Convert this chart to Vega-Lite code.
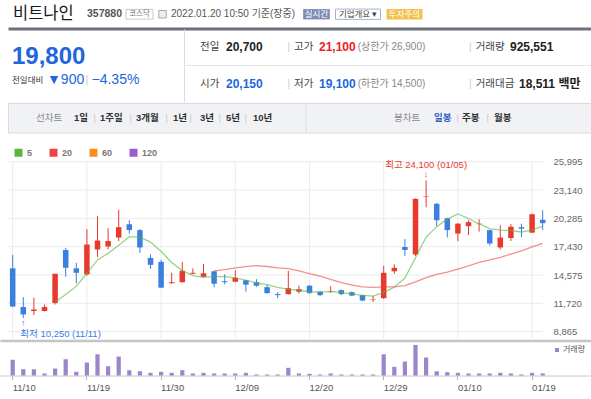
{
"$schema": "https://vega.github.io/schema/vega-lite/v6.json",
"padding": 0,
"background": "#ffffff",
"spacing": 0,
"bounds": "full",
"config": {
  "view": {"stroke": null},
  "font": "Liberation Sans, Noto Sans CJK KR",
  "text": {"font": "Liberation Sans, Noto Sans CJK KR", "baseline": "middle"},
  "axis": {"labelFont": "Liberation Sans, Noto Sans CJK KR"},
  "axisY": {"labelOverlap": false},
  "legend": {"labelFont": "Liberation Sans, Noto Sans CJK KR"}
},
"datasets": {
  "prices": [
    {"date":"2021-11-10","open":15250,"high":16600,"low":11350,"close":11400,"volume":7076000},
    {"date":"2021-11-11","open":11350,"high":12350,"low":10250,"close":10600,"volume":2840000},
    {"date":"2021-11-12","open":10950,"high":12300,"low":10550,"close":11100,"volume":2840000},
    {"date":"2021-11-15","open":10950,"high":11600,"low":10900,"close":11350,"volume":900000},
    {"date":"2021-11-16","open":11750,"high":14700,"low":11600,"close":14700,"volume":3155000},
    {"date":"2021-11-17","open":17100,"high":17300,"low":14400,"close":15300,"volume":7346000},
    {"date":"2021-11-18","open":15250,"high":15800,"low":13750,"close":14800,"volume":1668000},
    {"date":"2021-11-19","open":14650,"high":19200,"low":14500,"close":17650,"volume":5859000},
    {"date":"2021-11-22","open":17150,"high":20500,"low":16400,"close":18050,"volume":9600000},
    {"date":"2021-11-23","open":17450,"high":19300,"low":17150,"close":18000,"volume":4192000},
    {"date":"2021-11-24","open":18350,"high":21150,"low":18000,"close":19400,"volume":8563000},
    {"date":"2021-11-25","open":19700,"high":20100,"low":18750,"close":19100,"volume":2389000},
    {"date":"2021-11-26","open":19100,"high":19200,"low":16800,"close":17350,"volume":1938000},
    {"date":"2021-11-29","open":16300,"high":16650,"low":15200,"close":15600,"volume":1217000},
    {"date":"2021-11-30","open":15900,"high":16100,"low":13250,"close":13300,"volume":1668000},
    {"date":"2021-12-01","open":13750,"high":14800,"low":13700,"close":13850,"volume":1217000},
    {"date":"2021-12-02","open":13850,"high":15900,"low":13800,"close":15000,"volume":2389000},
    {"date":"2021-12-03","open":14700,"high":15250,"low":14650,"close":14800,"volume":901000},
    {"date":"2021-12-06","open":14400,"high":15700,"low":14350,"close":14750,"volume":1217000},
    {"date":"2021-12-07","open":14950,"high":15000,"low":13350,"close":13700,"volume":901000},
    {"date":"2021-12-08","open":13950,"high":14650,"low":13650,"close":13850,"volume":901000},
    {"date":"2021-12-09","open":13900,"high":15050,"low":13850,"close":14300,"volume":901000},
    {"date":"2021-12-10","open":14050,"high":14100,"low":12900,"close":13600,"volume":1217000},
    {"date":"2021-12-13","open":13850,"high":14150,"low":13400,"close":13500,"volume":451000},
    {"date":"2021-12-14","open":13350,"high":13600,"low":12700,"close":12750,"volume":451000},
    {"date":"2021-12-15","open":12650,"high":12850,"low":12250,"close":12550,"volume":451000},
    {"date":"2021-12-16","open":12650,"high":15000,"low":12600,"close":13250,"volume":3470000},
    {"date":"2021-12-17","open":12900,"high":13500,"low":12700,"close":13150,"volume":901000},
    {"date":"2021-12-20","open":13500,"high":13550,"low":12700,"close":12750,"volume":766000},
    {"date":"2021-12-21","open":12900,"high":12950,"low":12450,"close":12550,"volume":451000},
    {"date":"2021-12-22","open":12850,"high":13450,"low":12800,"close":12900,"volume":901000},
    {"date":"2021-12-23","open":13050,"high":13100,"low":12550,"close":12650,"volume":451000},
    {"date":"2021-12-24","open":12850,"high":12900,"low":12450,"close":12500,"volume":451000},
    {"date":"2021-12-27","open":12550,"high":12600,"low":11950,"close":12000,"volume":451000},
    {"date":"2021-12-28","open":12100,"high":12450,"low":11850,"close":12150,"volume":451000},
    {"date":"2021-12-29","open":12250,"high":15500,"low":12150,"close":14800,"volume":9600000},
    {"date":"2021-12-30","open":14950,"high":15650,"low":14700,"close":15300,"volume":3921000},
    {"date":"2022-01-03","open":17400,"high":18200,"low":16500,"close":17100,"volume":6310000},
    {"date":"2022-01-04","open":16650,"high":22300,"low":16500,"close":22250,"volume":13837000},
    {"date":"2022-01-05","open":22450,"high":24100,"low":21400,"close":22500,"volume":8113000},
    {"date":"2022-01-06","open":21750,"high":21850,"low":19500,"close":20100,"volume":1938000},
    {"date":"2022-01-07","open":20300,"high":20350,"low":18350,"close":19100,"volume":1487000},
    {"date":"2022-01-10","open":18750,"high":19800,"low":18000,"close":19750,"volume":1217000},
    {"date":"2022-01-11","open":19500,"high":20100,"low":18600,"close":19900,"volume":901000},
    {"date":"2022-01-12","open":19700,"high":20200,"low":18950,"close":19750,"volume":901000},
    {"date":"2022-01-13","open":19100,"high":19150,"low":17550,"close":17750,"volume":901000},
    {"date":"2022-01-14","open":17350,"high":19600,"low":17150,"close":18350,"volume":1217000},
    {"date":"2022-01-17","open":18300,"high":19700,"low":18000,"close":19450,"volume":901000},
    {"date":"2022-01-18","open":19400,"high":19750,"low":18400,"close":19250,"volume":451000},
    {"date":"2022-01-19","open":18850,"high":20750,"low":18800,"close":20700,"volume":1217000},
    {"date":"2022-01-20","open":20150,"high":21100,"low":19100,"close":19800,"volume":925551}
  ]
},
"resolve": {"scale": {"x": "independent", "y": "independent", "color": "independent"}, "legend": {"color": "independent"}, "axis": {"x": "independent", "y": "independent"}},
"vconcat": [
  {
    "width": 591, "height": 28.5,
    "data": {"values": [
      {"slot": 0, "kind": "name", "text": "비트나인"},
      {"slot": 1, "kind": "code", "text": "357880"},
      {"slot": 2, "kind": "market", "text": "코스닥"},
      {"slot": 3, "kind": "icon", "text": ""},
      {"slot": 4, "kind": "time", "text": "2022.01.20 10:50 기준(장중)"},
      {"slot": 5, "kind": "live", "text": "실시간"},
      {"slot": 6, "kind": "company", "text": "기업개요 ▾"},
      {"slot": 7, "kind": "warn", "text": "투자주의"}
    ]},
    "encoding": {
      "x": {"field": "slot", "type": "quantitative",
            "scale": {"domain": [-1, 0, 1, 2, 3, 4, 5, 6, 7, 8], "range": [8, 13, 87, 139.5, 162.5, 171, 316.5, 358, 404.5, 591], "zero": false, "nice": false},
            "axis": {"orient": "bottom", "domain": true, "domainColor": "#6b707b", "domainWidth": 3, "labels": false, "ticks": false, "grid": false, "title": null}}
    },
    "layer": [
      {"transform": [{"filter": "datum.kind == 'name'"}], "mark": {"type": "text", "align": "left", "fontSize": 16.5, "dy": 0, "color": "#1a1a1a", "font": "Noto Sans CJK KR"}, "encoding": {"text": {"field": "text"}}},
      {"transform": [{"filter": "datum.kind == 'code'"}], "mark": {"type": "text", "align": "left", "fontSize": 10.5, "fontWeight": "bold", "color": "#555555"}, "encoding": {"text": {"field": "text"}}},
      {"transform": [{"filter": "datum.kind == 'market'"}], "mark": {"type": "point", "shape": "M-1,-0.36H1V0.36H-1Z", "size": 729, "filled": true, "fill": "#ffffff", "stroke": "#c9c9c9", "strokeWidth": 1, "opacity": 1}},
      {"transform": [{"filter": "datum.kind == 'market'"}], "mark": {"type": "text", "align": "center", "fontSize": 7.5, "color": "#777777", "font": "Noto Sans CJK KR"}, "encoding": {"text": {"field": "text"}}},
      {"transform": [{"filter": "datum.kind == 'icon'"}], "mark": {"type": "point", "shape": "square", "size": 56, "filled": true, "fill": "#eeeeee", "stroke": "#aaaaaa", "strokeWidth": 1, "opacity": 1}},
      {"transform": [{"filter": "datum.kind == 'time'"}], "mark": {"type": "text", "align": "left", "fontSize": 10, "color": "#555555"}, "encoding": {"text": {"field": "text"}}},
      {"transform": [{"filter": "datum.kind == 'live'"}], "mark": {"type": "point", "shape": "M-1,-0.386H1V0.386H-1Z", "size": 713, "filled": true, "fill": "#7e8bb6", "strokeWidth": 0, "opacity": 1}},
      {"transform": [{"filter": "datum.kind == 'live'"}], "mark": {"type": "text", "align": "center", "fontSize": 8.5, "color": "#ffffff", "font": "Noto Sans CJK KR"}, "encoding": {"text": {"field": "text"}}},
      {"transform": [{"filter": "datum.kind == 'company'"}], "mark": {"type": "point", "shape": "M-1,-0.229H1V0.229H-1Z", "size": 2025, "filled": true, "fill": "#ffffff", "stroke": "#a9b3d2", "strokeWidth": 1, "opacity": 1}},
      {"transform": [{"filter": "datum.kind == 'company'"}], "mark": {"type": "text", "align": "center", "fontSize": 8.5, "color": "#444444", "font": "Noto Sans CJK KR"}, "encoding": {"text": {"field": "text"}}},
      {"transform": [{"filter": "datum.kind == 'warn'"}], "mark": {"type": "point", "shape": "M-1,-0.286H1V0.286H-1Z", "size": 1296, "filled": true, "fill": "#f2c14e", "strokeWidth": 0, "opacity": 1}},
      {"transform": [{"filter": "datum.kind == 'warn'"}], "mark": {"type": "text", "align": "center", "fontSize": 8.5, "color": "#ffffff", "font": "Noto Sans CJK KR"}, "encoding": {"text": {"field": "text"}}}
    ]
  },
  {
    "spacing": 0, "bounds": "flush",
    "resolve": {"scale": {"x": "independent", "y": "independent"}},
    "hconcat": [
      {
        "width": 184, "height": 73,
        "data": {"values": [
          {"slot": 0, "row": "price", "kind": "price", "text": "19,800"},
          {"slot": 0, "row": "change", "kind": "label", "text": "전일대비"},
          {"slot": 1, "row": "change", "kind": "chg", "text": "▼900"},
          {"slot": 2, "row": "change", "kind": "sep", "text": "|"},
          {"slot": 3, "row": "change", "kind": "chg", "text": "−4.35%"}
        ]},
        "encoding": {
          "x": {"field": "slot", "type": "quantitative", "scale": {"domain": [0, 1, 2, 3], "range": [12, 47, 85.5, 91.5], "zero": false, "nice": false}, "axis": null},
          "y": {"field": "row", "type": "nominal", "scale": {"type": "band", "domain": ["price", "change"], "paddingInner": 0, "paddingOuter": 0.587, "align": 0.611}, "axis": null},
          "text": {"field": "text"}
        },
        "layer": [
          {"transform": [{"filter": "datum.kind == 'price'"}], "mark": {"type": "text", "align": "left", "fontSize": 24, "fontWeight": "bold", "color": "#2166dc"}},
          {"transform": [{"filter": "datum.kind == 'label'"}], "mark": {"type": "text", "align": "left", "fontSize": 8.5, "color": "#333333", "font": "Noto Sans CJK KR"}},
          {"transform": [{"filter": "datum.kind == 'chg'"}], "mark": {"type": "text", "align": "left", "fontSize": 14, "color": "#2166dc"}},
          {"transform": [{"filter": "datum.kind == 'sep'"}], "mark": {"type": "text", "align": "left", "fontSize": 11, "color": "#cccccc"}}
        ]
      },
      {
        "width": 407, "height": 73,
        "encoding": {
          "y": {"field": "row", "type": "nominal", "scale": {"type": "band", "domain": ["r1", "r2"], "paddingInner": 0, "paddingOuter": 0},
                "axis": {"orient": "left", "domain": true, "domainColor": "#dcdde1", "domainWidth": 1, "labels": false, "ticks": false, "grid": false, "title": null}}
        },
        "layer": [
          {"data": {"values": [{"row": "r2"}]}, "mark": {"type": "rule", "color": "#e6e6e6"}, "encoding": {"y": {"field": "row", "type": "nominal", "bandPosition": 0}}},
          {
            "data": {"values": [
              {"slot": 0, "row": "r1", "kind": "label", "text": "전일"},
              {"slot": 1, "row": "r1", "kind": "val", "text": "20,700"},
              {"slot": 2, "row": "r1", "kind": "sep", "text": "|"},
              {"slot": 3, "row": "r1", "kind": "label", "text": "고가"},
              {"slot": 4, "row": "r1", "kind": "up", "text": "21,100"},
              {"slot": 5, "row": "r1", "kind": "limit", "text": "(상한가 26,900)"},
              {"slot": 6, "row": "r1", "kind": "sep", "text": "|"},
              {"slot": 7, "row": "r1", "kind": "label", "text": "거래량"},
              {"slot": 8, "row": "r1", "kind": "val", "text": "925,551"},
              {"slot": 0, "row": "r2", "kind": "label", "text": "시가"},
              {"slot": 1, "row": "r2", "kind": "down", "text": "20,150"},
              {"slot": 2, "row": "r2", "kind": "sep", "text": "|"},
              {"slot": 3, "row": "r2", "kind": "label", "text": "저가"},
              {"slot": 4, "row": "r2", "kind": "down", "text": "19,100"},
              {"slot": 5, "row": "r2", "kind": "limit", "text": "(하한가 14,500)"},
              {"slot": 6, "row": "r2", "kind": "sep", "text": "|"},
              {"slot": 7, "row": "r2", "kind": "label", "text": "거래대금"},
              {"slot": 9, "row": "r2", "kind": "val", "text": "18,511 백만"}
            ]},
            "encoding": {
              "x": {"field": "slot", "type": "quantitative", "scale": {"domain": [0, 1, 2, 3, 4, 5, 6, 7, 8, 9], "range": [16, 42, 103.5, 110, 135, 173.7, 285, 291.7, 326, 335], "zero": false, "nice": false}, "axis": null},
              "y": {"field": "row", "type": "nominal"},
              "text": {"field": "text"}
            },
            "layer": [
              {"transform": [{"filter": "datum.kind == 'label'"}], "mark": {"type": "text", "align": "left", "fontSize": 10.5, "color": "#444444", "font": "Noto Sans CJK KR"}},
              {"transform": [{"filter": "datum.kind == 'val'"}], "mark": {"type": "text", "align": "left", "fontSize": 12, "fontWeight": "bold", "color": "#222222"}},
              {"transform": [{"filter": "datum.kind == 'up'"}], "mark": {"type": "text", "align": "left", "fontSize": 12, "fontWeight": "bold", "color": "#f0201c"}},
              {"transform": [{"filter": "datum.kind == 'down'"}], "mark": {"type": "text", "align": "left", "fontSize": 12, "fontWeight": "bold", "color": "#2166dc"}},
              {"transform": [{"filter": "datum.kind == 'limit'"}], "mark": {"type": "text", "align": "left", "fontSize": 10, "color": "#888888"}},
              {"transform": [{"filter": "datum.kind == 'sep'"}], "mark": {"type": "text", "align": "left", "fontSize": 10, "color": "#cccccc"}}
            ]
          }
        ]
      }
    ]
  },
  {
    "spacing": 0, "bounds": "flush",
    "hconcat": [
      {"width": 8, "height": 29.5, "view": {"fill": "#ffffff"}, "data": {"values": [{}]}, "mark": {"type": "text", "text": ""}, "encoding": {}},
      {
        "width": 583, "height": 29.5,
        "view": {"fill": "#f1f2f6", "stroke": "#d8dadf"},
        "data": {"values": [
          {"slot": 0, "kind": "head", "text": "선차트"},
          {"slot": 1, "kind": "item", "text": "1일"},
          {"slot": 2, "kind": "sep", "text": "|"},
          {"slot": 3, "kind": "item", "text": "1주일"},
          {"slot": 4, "kind": "sep", "text": "|"},
          {"slot": 5, "kind": "item", "text": "3개월"},
          {"slot": 6, "kind": "sep", "text": "|"},
          {"slot": 7, "kind": "item", "text": "1년"},
          {"slot": 8, "kind": "sep", "text": "|"},
          {"slot": 9, "kind": "item", "text": "3년"},
          {"slot": 10, "kind": "sep", "text": "|"},
          {"slot": 11, "kind": "item", "text": "5년"},
          {"slot": 12, "kind": "sep", "text": "|"},
          {"slot": 13, "kind": "item", "text": "10년"},
          {"slot": 14, "kind": "divider", "text": ""},
          {"slot": 15, "kind": "head", "text": "봉차트"},
          {"slot": 16, "kind": "active", "text": "일봉"},
          {"slot": 17, "kind": "sep", "text": "|"},
          {"slot": 18, "kind": "item", "text": "주봉"},
          {"slot": 19, "kind": "sep", "text": "|"},
          {"slot": 20, "kind": "item", "text": "월봉"}
        ]},
        "encoding": {
          "x": {"field": "slot", "type": "quantitative",
                "scale": {"domain": [0,1,2,3,4,5,6,7,8,9,10,11,12,13,14,15,16,17,18,19,20], "range": [28,66,85.5,92,121.5,128,157.5,165,181.5,192,210.5,218,236.5,245,298,386,426,448.5,454,478.5,486], "zero": false, "nice": false},
                "axis": null}
        },
        "layer": [
          {"transform": [{"filter": "datum.kind == 'divider'"}], "mark": {"type": "rule", "color": "#d8dadf"}},
          {"transform": [{"filter": "datum.kind == 'head'"}], "mark": {"type": "text", "align": "left", "fontSize": 9.5, "color": "#888888", "font": "Noto Sans CJK KR"}, "encoding": {"text": {"field": "text"}}},
          {"transform": [{"filter": "datum.kind == 'item'"}], "mark": {"type": "text", "align": "left", "fontSize": 9.5, "fontWeight": "bold", "color": "#333333"}, "encoding": {"text": {"field": "text"}}},
          {"transform": [{"filter": "datum.kind == 'active'"}], "mark": {"type": "text", "align": "left", "fontSize": 9.5, "fontWeight": "bold", "color": "#2f5fc2"}, "encoding": {"text": {"field": "text"}}},
          {"transform": [{"filter": "datum.kind == 'sep'"}], "mark": {"type": "text", "align": "left", "fontSize": 9, "color": "#c8c8c8"}, "encoding": {"text": {"field": "text"}}}
        ]
      }
    ]
  },
  {
    "width": 591, "height": 206.5,
    "layer": [
      {
        "data": {"values": [{"level": 8865}, {"level": 11720}, {"level": 14575}, {"level": 17430}, {"level": 20285}, {"level": 23140}, {"level": 25995}]},
        "mark": {"type": "rule", "color": "#ebebeb", "strokeWidth": 1},
        "encoding": {
          "y": {"field": "level", "type": "quantitative",
                "scale": {"domain": [7977, 28786], "nice": false, "zero": false},
                "axis": {"orient": "right", "offset": -38, "values": [8865, 11720, 14575, 17430, 20285, 23140, 25995], "tickCount": 20, "format": ",d", "domain": false, "ticks": false, "grid": false, "labelPadding": 0, "labelOverlap": false, "labelBound": false, "labelFontSize": 9.5, "labelColor": "#666666", "labelFont": "Liberation Sans", "title": null}},
          "x": {"datum": "2021-11-10", "type": "ordinal", "bandPosition": 0},
          "x2": {"datum": "2022-01-20"}
        }
      },
      {
        "data": {"values": [{"date": "2021-11-10"}, {"date": "2021-11-19"}, {"date": "2021-11-30"}, {"date": "2021-12-09"}, {"date": "2021-12-20"}, {"date": "2021-12-29"}, {"date": "2022-01-10"}, {"date": "2022-01-19"}]},
        "mark": {"type": "rule", "color": "#ebebeb", "strokeWidth": 1},
        "encoding": {
          "x": {"field": "date", "type": "ordinal"},
          "y": {"datum": 25995},
          "y2": {"datum": 7977}
        }
      },
      {
        "data": {"name": "prices"},
        "mark": {"type": "rule", "strokeWidth": 1},
        "encoding": {
          "x": {"field": "date", "type": "ordinal",
                "scale": {"type": "band", "paddingInner": 0, "paddingOuter": 0.3774, "align": 0.925,
                          "domain": ["2021-11-10","2021-11-11","2021-11-12","2021-11-15","2021-11-16","2021-11-17","2021-11-18","2021-11-19","2021-11-22","2021-11-23","2021-11-24","2021-11-25","2021-11-26","2021-11-29","2021-11-30","2021-12-01","2021-12-02","2021-12-03","2021-12-06","2021-12-07","2021-12-08","2021-12-09","2021-12-10","2021-12-13","2021-12-14","2021-12-15","2021-12-16","2021-12-17","2021-12-20","2021-12-21","2021-12-22","2021-12-23","2021-12-24","2021-12-27","2021-12-28","2021-12-29","2021-12-30","2022-01-03","2022-01-04","2022-01-05","2022-01-06","2022-01-07","2022-01-10","2022-01-11","2022-01-12","2022-01-13","2022-01-14","2022-01-17","2022-01-18","2022-01-19","2022-01-20","pad1","pad2","pad3","pad4"]},
                "axis": {"orient": "bottom", "domain": true, "domainColor": "#c4c4c4", "domainWidth": 2.5, "labels": false, "ticks": false, "grid": false, "title": null}},
          "y": {"field": "low", "type": "quantitative"},
          "y2": {"field": "high"},
          "color": {"condition": {"test": "datum.close >= datum.open", "value": "#e8392f"}, "value": "#3b7fe0"}
        }
      },
      {
        "data": {"name": "prices"},
        "mark": {"type": "bar", "width": {"band": 0.52}},
        "encoding": {
          "x": {"field": "date", "type": "ordinal"},
          "y": {"field": "open", "type": "quantitative"},
          "y2": {"field": "close"},
          "color": {"condition": {"test": "datum.close >= datum.open", "value": "#e8392f"}, "value": "#3b7fe0"}
        }
      },
      {
        "data": {"name": "prices"},
        "transform": [
          {"window": [{"op": "mean", "field": "close", "as": "ma5"}, {"op": "count", "field": "close", "as": "n5"}], "frame": [-4, 0], "sort": [{"field": "date"}]},
          {"window": [{"op": "mean", "field": "close", "as": "ma20"}, {"op": "count", "field": "close", "as": "n20"}], "frame": [-19, 0], "sort": [{"field": "date"}]},
          {"fold": ["ma5", "ma20"], "as": ["ma", "value"]},
          {"filter": "(datum.ma == 'ma5' && datum.n5 == 5) || (datum.ma == 'ma20' && datum.n20 == 20)"}
        ],
        "mark": {"type": "line", "strokeWidth": 1.3, "opacity": 0.6},
        "encoding": {
          "x": {"field": "date", "type": "ordinal"},
          "y": {"field": "value", "type": "quantitative"},
          "color": {"field": "ma", "type": "nominal",
                    "scale": {"domain": ["ma5", "ma20", "ma60", "ma120"], "range": ["#55b83c", "#ee4444", "#ff8a1e", "#9b5cd0"]},
                    "legend": {"title": null, "orient": "top-left", "direction": "horizontal", "offset": 14, "padding": 0, "symbolType": "square", "symbolSize": 4, "symbolStrokeWidth": 6, "symbolOpacity": 1, "labelFontSize": 9, "labelFontWeight": "bold", "labelColor": "#777777", "labelOffset": 4, "columnPadding": 7, "labelExpr": "replace(datum.label, 'ma', '')"}}
        }
      },
      {
        "data": {"values": [{"date": "2022-01-05", "price": 24100, "label": "최고 24,100 (01/05)"}]},
        "encoding": {"x": {"field": "date", "type": "ordinal"}, "y": {"field": "price", "type": "quantitative"}},
        "layer": [
          {"mark": {"type": "text", "dy": -16, "fontSize": 9.5, "color": "#e8392f", "align": "center"}, "encoding": {"text": {"field": "label"}}},
          {"mark": {"type": "text", "dy": -1.5, "fontSize": 9, "color": "#e8392f", "baseline": "bottom", "align": "center", "text": "↓"}}
        ]
      },
      {
        "data": {"values": [{"date": "2021-11-11", "price": 10250, "label": "최저 10,250 (11/11)"}]},
        "encoding": {"x": {"field": "date", "type": "ordinal"}, "y": {"field": "price", "type": "quantitative"}},
        "layer": [
          {"mark": {"type": "text", "dy": 16, "dx": -3, "fontSize": 9.5, "color": "#3b7fe0", "align": "left"}, "encoding": {"text": {"field": "label"}}},
          {"mark": {"type": "text", "dy": 1, "fontSize": 9, "color": "#3b7fe0", "baseline": "top", "align": "center", "text": "↑"}}
        ]
      }
    ]
  },
  {
    "width": 591, "height": 34.5,
    "layer": [
      {
        "data": {"name": "prices"},
        "mark": {"type": "bar", "width": {"band": 0.4}},
        "encoding": {
          "x": {"field": "date", "type": "ordinal",
                "scale": {"type": "band", "paddingInner": 0, "paddingOuter": 0.3774, "align": 0.925,
                          "domain": ["2021-11-10","2021-11-11","2021-11-12","2021-11-15","2021-11-16","2021-11-17","2021-11-18","2021-11-19","2021-11-22","2021-11-23","2021-11-24","2021-11-25","2021-11-26","2021-11-29","2021-11-30","2021-12-01","2021-12-02","2021-12-03","2021-12-06","2021-12-07","2021-12-08","2021-12-09","2021-12-10","2021-12-13","2021-12-14","2021-12-15","2021-12-16","2021-12-17","2021-12-20","2021-12-21","2021-12-22","2021-12-23","2021-12-24","2021-12-27","2021-12-28","2021-12-29","2021-12-30","2022-01-03","2022-01-04","2022-01-05","2022-01-06","2022-01-07","2022-01-10","2022-01-11","2022-01-12","2022-01-13","2022-01-14","2022-01-17","2022-01-18","2022-01-19","2022-01-20","pad1","pad2","pad3","pad4"]},
                "axis": {"title": null, "values": ["2021-11-10", "2021-11-19", "2021-11-30", "2021-12-09", "2021-12-20", "2021-12-29", "2022-01-10", "2022-01-19"],
                         "labelExpr": "substring(datum.label, 5, 7) + '/' + substring(datum.label, 8, 10)",
                         "labelAlign": "left", "labelAngle": 0, "labelFontSize": 9.5, "labelColor": "#555555", "labelFont": "Liberation Sans", "labelPadding": 3, "tickSize": 4, "tickColor": "#b5b5b5", "domainColor": "#c8c8c8", "grid": false, "labelOverlap": false}},
          "y": {"field": "volume", "type": "quantitative", "scale": {"domain": [0, 15600000], "nice": false, "zero": true}, "axis": null},
          "color": {"datum": "거래량", "type": "nominal",
                    "scale": {"domain": ["거래량"], "range": ["#9d85c9"]},
                    "legend": {"title": null, "orient": "top-right", "offset": 1, "padding": 4, "symbolType": "square", "symbolSize": 16, "labelFontSize": 8, "labelColor": "#555555", "labelOffset": 2, "labelFont": "Noto Sans CJK KR"}}
        }
      }
    ]
  }
]
}
